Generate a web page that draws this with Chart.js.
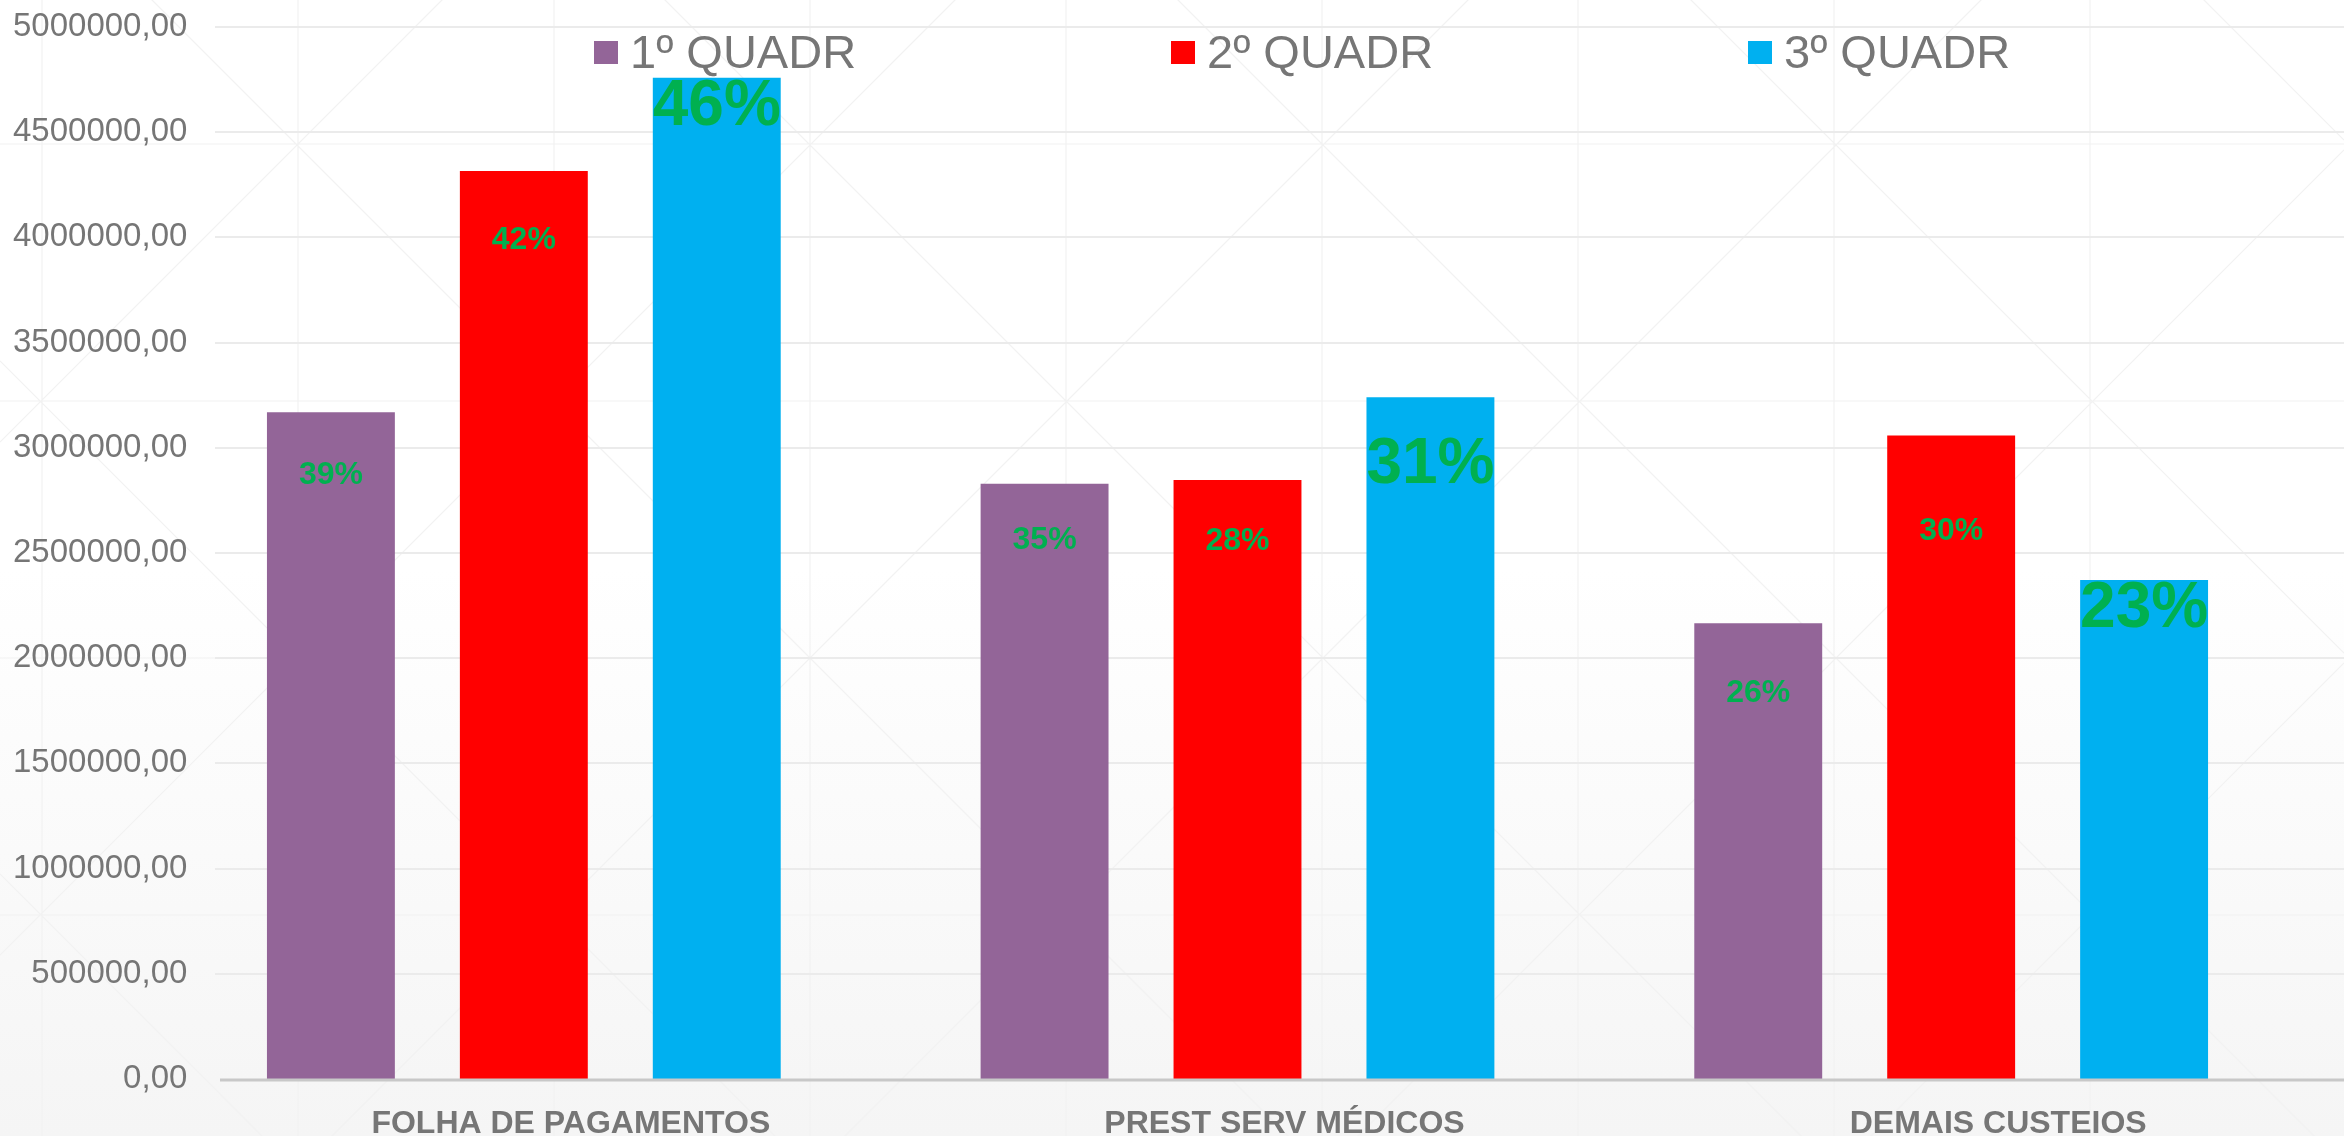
<!DOCTYPE html>
<html>
<head>
<meta charset="utf-8">
<script src="https://cdn.jsdelivr.net/npm/chart.js@4"></script>
<style>
  body { margin: 0; background: linear-gradient(#ffffff 50%, #f5f5f5 100%); }
  #wrap { width: 2344px; height: 1136px; position: relative; }
</style>
</head>
<body>
<div id="wrap"><canvas id="chart"></canvas></div>
<script>
let categories = ["FOLHA DE PAGAMENTOS", "PREST SERV MÉDICOS", "DEMAIS CUSTEIOS"];
let seriesNames = ["1º QUADR", "2º QUADR", "3º QUADR"];

let quadr1 = [3169000, 2829000, 2166000];
let quadr2 = [4316000, 2847000, 3058000];
let quadr3 = [4759000, 3240000, 2372000];

let pct1 = ["39%", "35%", "26%"];
let pct2 = ["42%", "28%", "30%"];
let pct3 = ["46%", "31%", "23%"];

let yTicks = [0, 500000, 1000000, 1500000, 2000000, 2500000, 3000000, 3500000, 4000000, 4500000, 5000000];

// look of the percent labels (not data)
let pctSize = [[32, 32, 32], [32, 32, 32], [64, 64, 64]];
let pctDrop = [[63, 56, 70], [69, 61, 96], [30, 68, 29]];

let colors = ["#936598", "#ff0000", "#00b0f0"];
let font = "'Liberation Sans', Arial, sans-serif";

// faint triangle texture + gridlines, starting a bit right of the labels
let backdrop = {
  id: "backdrop",
  beforeDraw(chart) {
    let ctx = chart.ctx;
    let w = chart.width;
    let h = chart.height;
    ctx.save();
    ctx.strokeStyle = "#f2f2f2";
    ctx.lineWidth = 1.2;
    ctx.beginPath();
    for (let x = 42; x < w; x += 256) {
      ctx.moveTo(x, 0); ctx.lineTo(x, h);
    }
    for (let y = 144; y < h; y += 257) {
      ctx.moveTo(0, y); ctx.lineTo(w, y);
    }
    for (let c = -152 - 513 * 5; c < h; c += 513) {
      ctx.moveTo(0, c); ctx.lineTo(w, c + w);
    }
    for (let c = 442 - 513; c < w + h + 513; c += 513) {
      ctx.moveTo(0, c); ctx.lineTo(w, c - w);
    }
    ctx.stroke();

    let y = chart.scales.y;
    ctx.strokeStyle = "#ebebeb";
    ctx.lineWidth = 2;
    ctx.beginPath();
    yTicks.forEach(v => {
      if (v === 0) return;
      let py = Math.round(y.getPixelForValue(v));
      ctx.moveTo(215, py); ctx.lineTo(w, py);
    });
    ctx.stroke();
    ctx.restore();
  },
  afterDatasetsDraw(chart) {
    let ctx = chart.ctx;
    let py = chart.scales.y.getPixelForValue(0);
    ctx.save();
    ctx.strokeStyle = "#c8c8c8";
    ctx.lineWidth = 3;
    ctx.beginPath();
    ctx.moveTo(220, py + 1); ctx.lineTo(chart.width, py + 1);
    ctx.stroke();
    ctx.restore();
  }
};

let pctLabels = {
  id: "pctLabels",
  afterDatasetsDraw(chart) {
    let ctx = chart.ctx;
    let all = [pct1, pct2, pct3];
    chart.data.datasets.forEach((ds, i) => {
      let meta = chart.getDatasetMeta(i);
      meta.data.forEach((bar, j) => {
        ctx.save();
        ctx.fillStyle = "#00b050";
        ctx.font = "bold " + pctSize[i][j] + "px " + font;
        ctx.textAlign = "center";
        ctx.textBaseline = "middle";
        ctx.fillText(all[i][j], bar.x, bar.y + pctDrop[i][j]);
        ctx.restore();
      });
    });
  }
};

// legend drawn inside the plot, spread out like the original
let topLegend = {
  id: "topLegend",
  afterDraw(chart) {
    let ctx = chart.ctx;
    let startX = 594;
    let pitch = 577;
    chart.data.datasets.forEach((ds, i) => {
      let x = startX + i * pitch;
      ctx.save();
      ctx.fillStyle = ds.backgroundColor;
      ctx.fillRect(x, 41, 24, 23);
      ctx.fillStyle = "#767676";
      ctx.font = "47px " + font;
      ctx.textBaseline = "alphabetic";
      ctx.fillText(ds.label, x + 36, 68);
      ctx.restore();
    });
  }
};

let ctx = document.getElementById("chart");

let myChart = new Chart(ctx, {
  type: "bar",
  data: {
    labels: categories,
    datasets: [
      { label: seriesNames[0], data: quadr1, backgroundColor: colors[0] },
      { label: seriesNames[1], data: quadr2, backgroundColor: colors[1] },
      { label: seriesNames[2], data: quadr3, backgroundColor: colors[2] },
    ],
  },
  options: {
    responsive: true,
    maintainAspectRatio: false,
    animation: false,
    categoryPercentage: 0.811,
    barPercentage: 0.663,
    layout: { padding: { top: 27, right: 36, left: 0, bottom: 0 } },
    plugins: {
      legend: { display: false },
      tooltip: { enabled: false },
    },
    scales: {
      x: {
        grid: { display: false },
        border: { display: false },
        ticks: {
          color: "#767676",
          font: { family: font, size: 32, weight: "bold" },
          padding: 18,
          labelOffset: 47,
          maxRotation: 0,
          autoSkip: false,
        },
        afterFit(scale) { scale.height = 57; },
      },
      y: {
        min: 0,
        max: 5000000,
        afterBuildTicks(scale) { scale.ticks = yTicks.map(v => ({ value: v })); },
        grid: { display: false },
        border: { display: false },
        ticks: {
          color: "#767676",
          font: { family: font, size: 33 },
          mirror: true,
          crossAlign: "far",
          padding: -154,
          callback: (v) => v.toFixed(2).replace(".", ","),
        },
        afterFit(scale) { scale.width = 167; },
      },
    },
  },
  plugins: [backdrop, pctLabels, topLegend],
});
</script>
</body>
</html>
